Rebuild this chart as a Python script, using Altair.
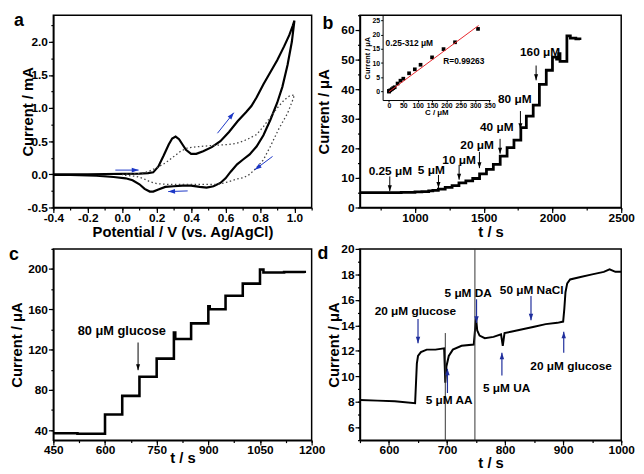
import math
import altair as alt
import pandas as pd

FONT = "Liberation Sans"
BLUE_A = "#1b36c6"
BLUE_D = "#1f2e9c"
HEAD = "M0,0L-0.75,-2.2L0.75,-2.2Z"

W1, W2 = 262, 265
H1, H2 = 195, 194

# ---------------- panel a : cyclic voltammograms ----------------
a_fwd_x = [-0.4, -0.3, -0.2, -0.1, 0.0, 0.1, 0.15, 0.18, 0.21, 0.24, 0.27, 0.29, 0.31, 0.33, 0.35, 0.37,
           0.40, 0.43, 0.47, 0.52, 0.57, 0.62, 0.67, 0.72, 0.75, 0.78, 0.82, 0.86, 0.90, 0.94, 0.97, 0.99, 1.0]
a_fwd_y = [0.0, 0.0, 0.0, 0.005, 0.008, 0.012, 0.018, 0.03, 0.12, 0.28, 0.45, 0.54, 0.57, 0.53, 0.45, 0.37,
           0.31, 0.31, 0.35, 0.41, 0.50, 0.64, 0.80, 0.94, 1.03, 1.16, 1.36, 1.54, 1.72, 1.93, 2.1, 2.24, 2.32]
a_rev_x = [1.0, 0.985, 0.96, 0.93, 0.90, 0.86, 0.82, 0.78, 0.74, 0.70, 0.667, 0.63, 0.60, 0.57, 0.53, 0.49,
           0.45, 0.40, 0.35, 0.30, 0.25, 0.21, 0.18, 0.16, 0.13, 0.10, 0.06, 0.02, -0.05, -0.15, -0.3, -0.4]
a_rev_y = [2.32, 2.0, 1.65, 1.32, 1.08, 0.82, 0.59, 0.42, 0.30, 0.22, 0.15, 0.04, -0.06, -0.13, -0.18, -0.2,
           -0.19, -0.17, -0.17, -0.18, -0.19, -0.23, -0.26, -0.26, -0.22, -0.15, -0.09, -0.06, -0.04, -0.02, -0.01, -0.01]
a_dot_fwd_x = [0.0, 0.1, 0.15, 0.2, 0.25, 0.3, 0.34, 0.38, 0.45, 0.55, 0.62, 0.667, 0.72, 0.78, 0.82, 0.86, 0.9, 0.94, 0.97, 1.0]
a_dot_fwd_y = [0.0, 0.01, 0.04, 0.1, 0.17, 0.27, 0.35, 0.40, 0.42, 0.44, 0.45, 0.47, 0.52, 0.6, 0.72, 0.86, 1.0, 1.12, 1.18, 1.2]
a_dot_rev_x = [1.0, 0.99, 0.96, 0.91, 0.86, 0.82, 0.78, 0.74, 0.705, 0.667, 0.62, 0.59, 0.55, 0.45, 0.35, 0.25, 0.2, 0.16, 0.12, 0.08, 0.0]
a_dot_rev_y = [1.2, 1.12, 0.92, 0.69, 0.42, 0.22, 0.1, 0.0, -0.05, -0.07, -0.11, -0.13, -0.15, -0.15, -0.15, -0.15, -0.14, -0.11, -0.06, -0.03, -0.01]
a_arr_x0 = [-0.04, 0.553, 0.873, 0.38]
a_arr_y0 = [0.064, 0.62, 0.27, -0.25]
a_arr_x1 = [0.095, 0.648, 0.77, 0.267]
a_arr_y1 = [0.064, 0.93, 0.07, -0.26]

# ---------------- panel b : amperometric response ----------------
b_t = [600, 700, 800, 850, 900, 950, 1000, 1050, 1100, 1130, 1170, 1220, 1270, 1320, 1370, 1420, 1470, 1520,
       1570, 1620, 1670, 1720, 1770, 1810, 1860, 1905, 1955, 2000, 2030, 2045, 2055, 2105, 2130, 2170, 2200]
b_y = [5.0, 5.0, 5.0, 5.05, 5.1, 5.15, 5.25, 5.4, 5.6, 5.8, 6.2, 6.8, 7.4, 8.3, 9.0, 9.8, 11.4, 12.9,
       14.6, 17.4, 20.2, 22.8, 27.0, 30.9, 34.6, 41.6, 46.4, 50.8, 50.2, 52.0, 49.4, 58.0, 57.3, 57.0, 56.6]
b_lab = ["0.25 μM", "5 μM", "10 μM", "20 μM", "40 μM", "80 μM", "160 μM"]
b_lab_t = [821, 1119, 1321, 1452, 1595, 1726, 1910]
b_lab_y = [12.2, 12.7, 16.2, 21.2, 27.1, 36.5, 52.5]
b_arr_t = [817, 1171, 1321, 1469, 1619, 1767, 1881]
b_arr_top = [10.5, 11.0, 14.4, 18.8, 23.2, 32.6, 48.0]
b_arr_tip = [5.5, 6.6, 9.4, 13.3, 18.2, 26.5, 43.0]
# inset calibration
in_c = [0, 0.25, 0.5, 0.75, 1, 5, 10, 15, 20, 30, 40, 50, 70, 90, 110, 150, 190, 230, 310]
in_i = [0.0, 0.05, 0.1, 0.12, 0.15, 0.45, 0.8, 1.2, 1.5, 2.8, 3.8, 4.5, 6.4, 7.8, 9.4, 12.0, 14.9, 17.3, 22.0]
fit_c = [0, 312]
fit_i = [-0.1, 23.2]

# ---------------- panel c : successive additions ----------------
c_t = [450, 520, 600, 650, 700, 750, 800, 804, 850, 900, 904, 950, 1000, 1050, 1060, 1120, 1180]
c_y = [36.8, 36.3, 55.5, 74.0, 93.0, 111.0, 137.0, 130.5, 146.0, 163.0, 160.0, 173.5, 185.5, 199.5, 196.5, 197.0, 196.0]

# ---------------- panel d : interference ----------------
d_t = [550, 580, 610, 645, 648, 650, 655, 665, 680, 695, 697, 699, 703, 710, 725, 746, 750, 752, 756, 765,
       780, 793, 796, 799, 810, 830, 850, 870, 890, 900, 902, 904, 907, 912, 930, 950, 970, 980, 990, 1000]
d_y = [8.15, 8.1, 8.05, 7.9, 11.0, 11.6, 11.9, 12.1, 12.1, 12.2, 9.5, 10.8, 11.6, 12.1, 12.4, 12.5, 14.6, 13.6, 13.2, 13.0,
       13.1, 13.3, 12.4, 13.4, 13.5, 13.7, 13.9, 14.1, 14.2, 14.3, 15.3, 16.6, 17.3, 17.6, 17.8, 18.0, 18.2, 18.4, 18.2, 18.2]
d_spike_t = [697, 748]
d_spike_lo = [4.0, 4.0]
d_spike_hi = [13.4, 21.0]
d_lab = ["20 μM glucose", "5 μM AA", "5 μM DA", "50 μM NaCl", "5 μM UA", "20 μM glucose"]
d_lab_t = [645.5, 703.6, 736.4, 845.8, 802.6, 913.7]
d_lab_y = [15.16, 8.14, 16.56, 16.8, 9.08, 10.83]
d_arr_t = [650, 700.7, 750.8, 844.6, 794.5, 901]
d_arr_tail = [14.5, 8.7, 16.05, 16.3, 10.07, 11.85]
d_arr_tip = [12.6, 10.6, 14.2, 14.4, 11.85, 13.5]


def tick_values(lo, hi, step):
    n0 = math.ceil(lo / step - 1e-9)
    n1 = math.floor(hi / step + 1e-9)
    return [round(k * step, 6) for k in range(n0, n1 + 1)]


def major_axis(lo, hi, major, dec, title, tpad=0, lpad=1):
    vals = tick_values(lo, hi, major)
    lab = f"(datum.value < 0 ? '-' : '') + format(abs(datum.value), '.{dec}f')"
    return alt.Axis(values=vals, tickCount=len(vals) + 2, labelExpr=lab, tickSize=5,
                    title=title, titlePadding=tpad, labelFontSize=12, titleFontSize=15,
                    labelOverlap=False, labelFlush=False, labelPadding=lpad, grid=False)


def minor_axis(lo, hi, minor, orient):
    vals = tick_values(lo, hi, minor)
    return alt.Axis(orient=orient, values=vals, tickCount=len(vals) + 2, labels=False, domain=False,
                    title=None, tickSize=2.5, grid=False)


def with_minor(main, df, xf, yf, xlo, xhi, xmin, ylo, yhi, ymin):
    ghost = alt.Chart(df).mark_point(opacity=0, size=1).encode(
        x=alt.X(xf, axis=minor_axis(xlo, xhi, xmin, "bottom")),
        y=alt.Y(yf, axis=minor_axis(ylo, yhi, ymin, "left")))
    return alt.layer(main, ghost).resolve_axis(x="independent", y="independent")


def letter(ch, dx, dy):
    return alt.Chart(pd.DataFrame({"t": [ch]})).mark_text(
        font=FONT, fontWeight="bold", fontSize=18, align="left", baseline="alphabetic", color="black"
    ).encode(text="t:N", x=alt.value(dx), y=alt.value(dy))


def arrow_angle(x0, y0, x1, y1, kx, ky):
    dx = (x1 - x0) * kx
    dy = -(y1 - y0) * ky
    return math.degrees(math.atan2(-dx, dy)) % 360


def txt(df, size=12, align="center"):
    return alt.Chart(df).mark_text(font=FONT, fontWeight="bold", fontSize=size, align=align,
                                   baseline="middle", color="black")


# ---------- build panel a ----------
sxa = alt.Scale(domain=[-0.4, 1.1], nice=False, zero=False)
sya = alt.Scale(domain=[-0.5, 2.4], nice=False, zero=False)
df_sol = pd.DataFrame({"x": a_fwd_x + a_rev_x, "y": a_fwd_y + a_rev_y})
df_sol["i"] = range(len(df_sol))
df_dot = pd.DataFrame({"x": a_dot_fwd_x + a_dot_rev_x, "y": a_dot_fwd_y + a_dot_rev_y})
df_dot["i"] = range(len(df_dot))
kxa, kya = W1 / 1.5, H1 / 2.9
df_aarr = pd.DataFrame({"x0": a_arr_x0, "y0": a_arr_y0, "x1": a_arr_x1, "y1": a_arr_y1})
df_aarr["ang"] = [arrow_angle(r.x0, r.y0, r.x1, r.y1, kxa, kya) for r in df_aarr.itertuples()]

a_solid = alt.Chart(df_sol).mark_line(color="black", strokeWidth=2.2, clip=True).encode(
    x=alt.X("x:Q", scale=sxa, axis=major_axis(-0.4, 1.1, 0.2, 1, "Potential / V (vs. Ag/AgCl)", tpad=1.5, lpad=0)),
    y=alt.Y("y:Q", scale=sya, axis=major_axis(-0.5, 2.4, 0.5, 1, "Current / mA", tpad=-8.5)),
    order="i:Q")
a_dotted = alt.Chart(df_dot).mark_line(color="#444444", strokeWidth=1.3, strokeDash=[1.5, 2.5], clip=True).encode(
    x="x:Q", y="y:Q", order="i:Q")
a_rule = alt.Chart(df_aarr).mark_rule(color=BLUE_A, strokeWidth=1).encode(
    x="x0:Q", y="y0:Q", x2="x1:Q", y2="y1:Q")
a_head = alt.Chart(df_aarr).mark_point(shape=HEAD, filled=True, color=BLUE_A, size=40, opacity=1).encode(
    x="x1:Q", y="y1:Q", angle=alt.Angle("ang:Q", scale=None))
a_main = alt.layer(a_solid, a_dotted, a_rule, a_head, letter("a", -40, 11))
pa = with_minor(a_main, df_sol, "x:Q", "y:Q", -0.4, 1.1, 0.1, -0.5, 2.4, 0.25).properties(width=W1, height=H1)

# ---------- build panel b ----------
sxb = alt.Scale(domain=[600, 2500], nice=False, zero=False)
syb = alt.Scale(domain=[0, 65], nice=False, zero=False)
df_b = pd.DataFrame({"t": b_t, "y": b_y})
df_blab = pd.DataFrame({"t": b_lab_t, "y": b_lab_y, "s": b_lab})
df_barr = pd.DataFrame({"t": b_arr_t, "top": b_arr_top, "tip": b_arr_tip})
b_line = alt.Chart(df_b).mark_line(color="black", strokeWidth=2.8, interpolate="step-after", clip=True).encode(
    x=alt.X("t:Q", scale=sxb, axis=major_axis(600, 2500, 500, 0, "t / s", tpad=1, lpad=0)),
    y=alt.Y("y:Q", scale=syb, axis=major_axis(0, 65, 10, 0, "Current / μA", tpad=10)))
b_rule = alt.Chart(df_barr).mark_rule(color="black", strokeWidth=1).encode(
    x="t:Q", y="top:Q", y2="tip:Q")
b_head = alt.Chart(df_barr).mark_point(shape=HEAD, filled=True, color="black", size=30, opacity=1).encode(
    x="t:Q", y="tip:Q")
b_text = txt(df_blab).encode(x="t:Q", y="y:Q", text="s:N")
b_core = alt.layer(b_line, b_rule, b_head, b_text, letter("b", -38, 14))
b_main = with_minor(b_core, df_b, "t:Q", "y:Q", 600, 2500, 250, 0, 65, 5)

sxi = alt.Scale(domain=[-22, 352], range=[23, 132], nice=False, zero=False)
syi = alt.Scale(domain=[-3, 26.8], range=[86, 0], nice=False, zero=False)
df_in = pd.DataFrame({"c": in_c, "i": in_i})
df_fit = pd.DataFrame({"c": fit_c, "i": fit_i})
df_intxt = pd.DataFrame({"c": [-11.6, 189], "i": [16.9, 10.8], "s": ["0.25-312 μM", "R=0.99263"]})
in_xv = list(range(0, 351, 50))
in_yv = list(range(0, 26, 5))
in_pts = alt.Chart(df_in).mark_point(shape="square", filled=True, color="black", size=14, opacity=1).encode(
    x=alt.X("c:Q", scale=sxi, axis=alt.Axis(orient="bottom", offset=-(H1 - 86), values=in_xv, tickCount=20,
                                            title="C / μM", titleFontSize=8, labelFontSize=7, tickSize=2,
                                            labelPadding=0, titlePadding=0, labelFlush=False, labelOverlap=False,
                                            domainWidth=1, tickWidth=1, grid=False)),
    y=alt.Y("i:Q", scale=syi, axis=alt.Axis(orient="left", offset=-23, values=in_yv, tickCount=20,
                                            title="Current / μA", titleFontSize=7.5, labelFontSize=7, tickSize=2,
                                            labelPadding=1, titlePadding=1, labelFlush=False, labelOverlap=False,
                                            domainWidth=1, tickWidth=1, grid=False)))
in_fit = alt.Chart(df_fit).mark_line(color="#e8262b", strokeWidth=1).encode(x="c:Q", y="i:Q")
in_txt = txt(df_intxt, size=8.5, align="left").encode(x="c:Q", y="i:Q", text="s:N")
b_inset = alt.layer(in_pts, in_fit, in_txt)
pb = alt.layer(b_main, b_inset).resolve_scale(x="independent", y="independent").properties(width=W2, height=H1)

# ---------- build panel c ----------
sxc = alt.Scale(domain=[450, 1200], nice=False, zero=False)
syc = alt.Scale(domain=[30, 220], nice=False, zero=False)
df_c = pd.DataFrame({"t": c_t, "y": c_y})
c_line = alt.Chart(df_c).mark_line(color="black", strokeWidth=2.6, interpolate="step-after", clip=True).encode(
    x=alt.X("t:Q", scale=sxc, axis=major_axis(450, 1200, 150, 0, "t / s", tpad=-5, lpad=0)),
    y=alt.Y("y:Q", scale=syc, axis=major_axis(30, 220, 40, 0, "Current / μA", tpad=3)))
df_carr = pd.DataFrame({"t": [696], "top": [127.0], "tip": [99.5]})
c_rule = alt.Chart(df_carr).mark_rule(color="black", strokeWidth=1).encode(x="t:Q", y="top:Q", y2="tip:Q")
c_head = alt.Chart(df_carr).mark_point(shape=HEAD, filled=True, color="black", size=30, opacity=1).encode(
    x="t:Q", y="tip:Q")
c_text = txt(pd.DataFrame({"t": [648.7], "y": [138.6], "s": ["80 μM glucose"]}), size=13).encode(
    x="t:Q", y="y:Q", text="s:N")
c_main = alt.layer(c_line, c_rule, c_head, c_text, letter("c", -45, 11))
pc = with_minor(c_main, df_c, "t:Q", "y:Q", 450, 1200, 75, 30, 220, 20).properties(width=W1, height=H2)

# ---------- build panel d ----------
sxd = alt.Scale(domain=[550, 1000], nice=False, zero=False)
syd = alt.Scale(domain=[5, 20], nice=False, zero=False)
df_d = pd.DataFrame({"t": d_t, "y": d_y})
df_spk = pd.DataFrame({"t": d_spike_t, "lo": d_spike_lo, "hi": d_spike_hi})
df_darr = pd.DataFrame({"t": d_arr_t, "tail": d_arr_tail, "tip": d_arr_tip})
df_darr["ang"] = [0 if r.tip < r.tail else 180 for r in df_darr.itertuples()]
df_dlab = pd.DataFrame({"t": d_lab_t, "y": d_lab_y, "s": d_lab})
d_line = alt.Chart(df_d).mark_line(color="black", strokeWidth=2.0, clip=True).encode(
    x=alt.X("t:Q", scale=sxd, axis=major_axis(550, 1000, 100, 0, "t / s", tpad=0, lpad=0)),
    y=alt.Y("y:Q", scale=syd, axis=major_axis(5, 20, 2, 0, "Current / μA", tpad=-0.5)))
d_spike = alt.Chart(df_spk).mark_rule(color="#333333", strokeWidth=1, clip=True).encode(
    x="t:Q", y="lo:Q", y2="hi:Q")
d_rule = alt.Chart(df_darr).mark_rule(color=BLUE_D, strokeWidth=1.2).encode(x="t:Q", y="tail:Q", y2="tip:Q")
d_head = alt.Chart(df_darr).mark_point(shape=HEAD, filled=True, color=BLUE_D, size=36, opacity=1).encode(
    x="t:Q", y="tip:Q", angle=alt.Angle("ang:Q", scale=None))
d_text = txt(df_dlab).encode(x="t:Q", y="y:Q", text="s:N")
d_main = alt.layer(d_line, d_spike, d_rule, d_head, d_text, letter("d", -43, 10))
pd_ = with_minor(d_main, df_d, "t:Q", "y:Q", 550, 1000, 50, 5, 20, 1).properties(width=W2, height=H2)

chart = alt.concat(pa, pb, pc, pd_, columns=2, spacing={"row": 42, "column": 49},
                   bounds="flush", align="each").properties(
    padding={"left": 0, "top": 0, "right": 0, "bottom": 0}
).configure_view(stroke="black", strokeWidth=1.5).configure_axis(
    labelFont=FONT, titleFont=FONT, labelFontWeight="bold", titleFontWeight="bold",
    labelColor="black", titleColor="black", domainColor="black", tickColor="black",
    domainWidth=1.5, tickWidth=1.2, grid=False)

chart.save("out.html", embed_options={"renderer": "svg", "actions": False})
